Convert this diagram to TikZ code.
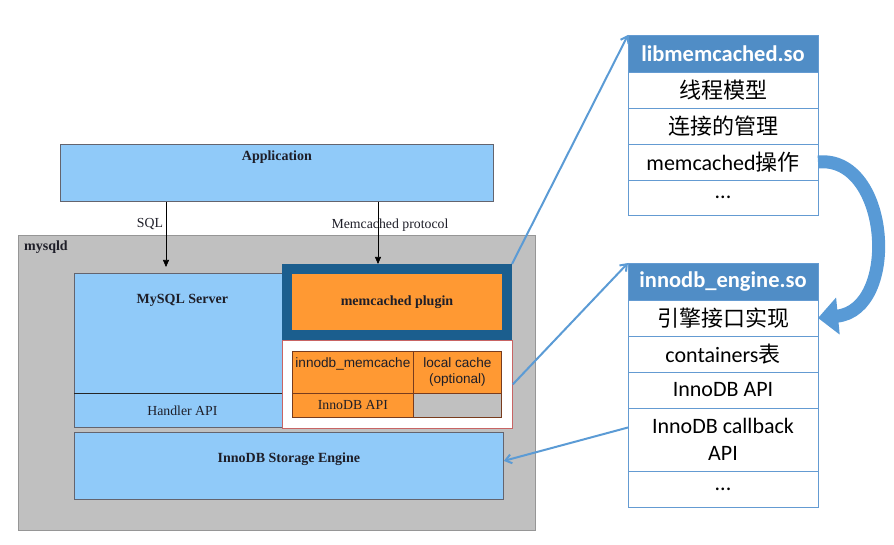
\documentclass[tikz,border=0pt]{standalone}
\usepackage{fontspec}
\setmainfont{Liberation Serif}
\newfontfamily\arialfont{Liberation Sans}
\newfontfamily\calibrifont{Carlito}
\newfontfamily\cjk{Noto Sans CJK SC}
\usetikzlibrary{positioning,arrows.meta}

\definecolor{appblue}{RGB}{144,202,249}
\definecolor{boxgray}{RGB}{100,100,110}
\definecolor{mysqldgray}{RGB}{192,192,192}
\definecolor{mysqldline}{RGB}{150,150,150}
\definecolor{plugorange}{RGB}{255,153,51}
\definecolor{frameblue}{RGB}{27,94,142}
\definecolor{cellline}{RGB}{120,60,30}
\definecolor{cacheline}{RGB}{200,100,100}
\definecolor{hdrblue}{RGB}{80,141,198}
\definecolor{tblline}{RGB}{100,155,210}
\definecolor{linkblue}{RGB}{91,155,213}
\definecolor{bigblue}{RGB}{88,154,214}
\definecolor{textdark}{RGB}{30,30,40}

\tikzset{
  block/.style={draw=boxgray, fill=appblue, line width=0.8pt, inner sep=0pt, anchor=north west},
  serifb/.style={font=\fontsize{14}{15}\selectfont\bfseries, text=textdark, inner sep=0pt},
  serifn/.style={font=\fontsize{13.8}{15}\selectfont, text=textdark},
  sanslbl/.style={font=\arialfont\fontsize{13.6}{16}\selectfont, text=textdark, inner sep=0pt},
  cachebox/.style={draw=cacheline, fill=white, line width=0.8pt, inner sep=0pt, anchor=north west},
  plugframe/.style={draw=frameblue, fill=plugorange, line width=10pt, inner sep=0pt, serifb},
  cell/.style={draw=cellline, fill=plugorange, line width=0.8pt, inner sep=0pt, anchor=north west},
  callarrow/.style={draw=black, line width=0.6pt, -{Triangle[length=7pt,width=6pt]}},
  tblhead/.style={draw=tblline, fill=hdrblue, text=white, line width=0.9pt,
    font=\calibrifont\fontsize{22.5}{26}\selectfont\bfseries,
    minimum width=190pt, minimum height=37pt, inner sep=0pt, outer sep=0pt, anchor=north west},
  tblrow/.style={draw=tblline, fill=white, line width=0.9pt,
    font=\calibrifont\fontsize{22}{27}\selectfont, align=center,
    minimum width=190pt, minimum height=36pt, inner sep=0pt, outer sep=0pt},
  linkline/.style={draw=linkblue, line width=2pt, -{Straight Barb[length=6pt,width=9pt]}},
  bigarrow/.style={draw=bigblue, line width=13pt, -{Triangle[length=20pt,width=36pt]}}
}

\begin{document}
\begin{tikzpicture}[x=1pt,y=-1pt]
    \useasboundingbox (0,0) rectangle (894,545);

    % mysqld and its layers
    \node[block, draw=mysqldline, fill=mysqldgray, minimum width=517pt, minimum height=295pt] (mysqld) at (18,235) {};
    \node[serifb, anchor=west] (mysqldlbl) at (24,247) {mysqld};
    \node[block, minimum width=433pt, minimum height=57pt] (app) at (60,144) {};
    \node[serifb] (applbl) at ([yshift=-13pt]app.north) {Application};
    \node[block, minimum width=216pt, minimum height=154pt] (server) at (74,273) {};
    \node[serifb] (serverlbl) at ([yshift=-27pt]server.north) {MySQL Server};
    \node[block, serifn, minimum width=216pt, minimum height=34pt] (handler) at (74,393) {Handler API};
    \draw[line width=1pt, black!85] (handler.north west) -- (handler.north east);
    \node[block, minimum width=429pt, minimum height=67pt] (innodb) at (74,432) {};
    \node[serifb] (innodblbl) at ([yshift=-27pt]innodb.north) {InnoDB Storage Engine};

    % memcached plugin
    \node[cachebox, minimum width=230pt, minimum height=88pt] (cachebox) at (282,340) {};
    \node[plugframe, minimum width=220pt, minimum height=66pt] (plugin) at (397,302) {memcached plugin};
    \node[cell, minimum width=121pt, minimum height=42pt] (mcache) at (292,351) {};
    \node[sanslbl] (mcachelbl) at ([yshift=-13pt]mcache.north) {innodb\_memcache};
    \node[cell, sanslbl, align=center, minimum width=88pt, minimum height=42pt] (localc) at (413,351) {local cache\\(optional)};
    \node[cell, serifn, inner sep=0pt, minimum width=121pt, minimum height=24pt] (apicell) at (292,393) {InnoDB API};
    \node[cell, fill=mysqldgray, minimum width=88pt, minimum height=24pt] (spare) at (413,393) {};

    % calls from the application
    \coordinate (sqlx) at (166,0);
    \coordinate (memx) at (378,0);
    \draw[callarrow, shorten >=6pt] (app.south -| sqlx) -- (server.north -| sqlx);
    \draw[callarrow] (app.south -| memx) -- (plugin.north -| memx);
    \node[serifn] (sqllbl) at (150,224) {SQL};
    \node[serifn] (memlbl) at (390,225) {Memcached protocol};

    % libmemcached.so
    \node[tblhead] (lib0) at (628,35) {libmemcached.so};
    \node[tblrow, below=0pt of lib0] (lib1) {\cjk 线程模型};
    \node[tblrow, below=0pt of lib1] (lib2) {\cjk 连接的管理};
    \node[tblrow, below=0pt of lib2] (lib3) {memcached{\cjk 操作}};
    \node[tblrow, below=0pt of lib3, minimum height=35pt] (lib4) {...};

    % innodb_engine.so
    \node[tblhead] (eng0) at (628,263) {innodb\_engine.so};
    \node[tblrow, below=0pt of eng0] (eng1) {\cjk 引擎接口实现};
    \node[tblrow, below=0pt of eng1] (eng2) {containers{\cjk 表}};
    \node[tblrow, below=0pt of eng2] (eng3) {InnoDB API};
    \node[tblrow, below=0pt of eng3, minimum height=63pt] (eng4) {InnoDB callback\\API};
    \node[tblrow, below=0pt of eng4] (eng5) {...};

    % links
    \draw[linkline] (plugin.north east) -- (lib0.north west);
    \draw[linkline] (cachebox.east) -- (eng0.north west);
    \draw[linkline] ([yshift=12pt]eng4.west) -- ([yshift=5pt]innodb.east);
    \draw[bigarrow] (lib3.east) .. controls (890,155) and (900,310) .. (eng1.east);
\end{tikzpicture}
\end{document}
